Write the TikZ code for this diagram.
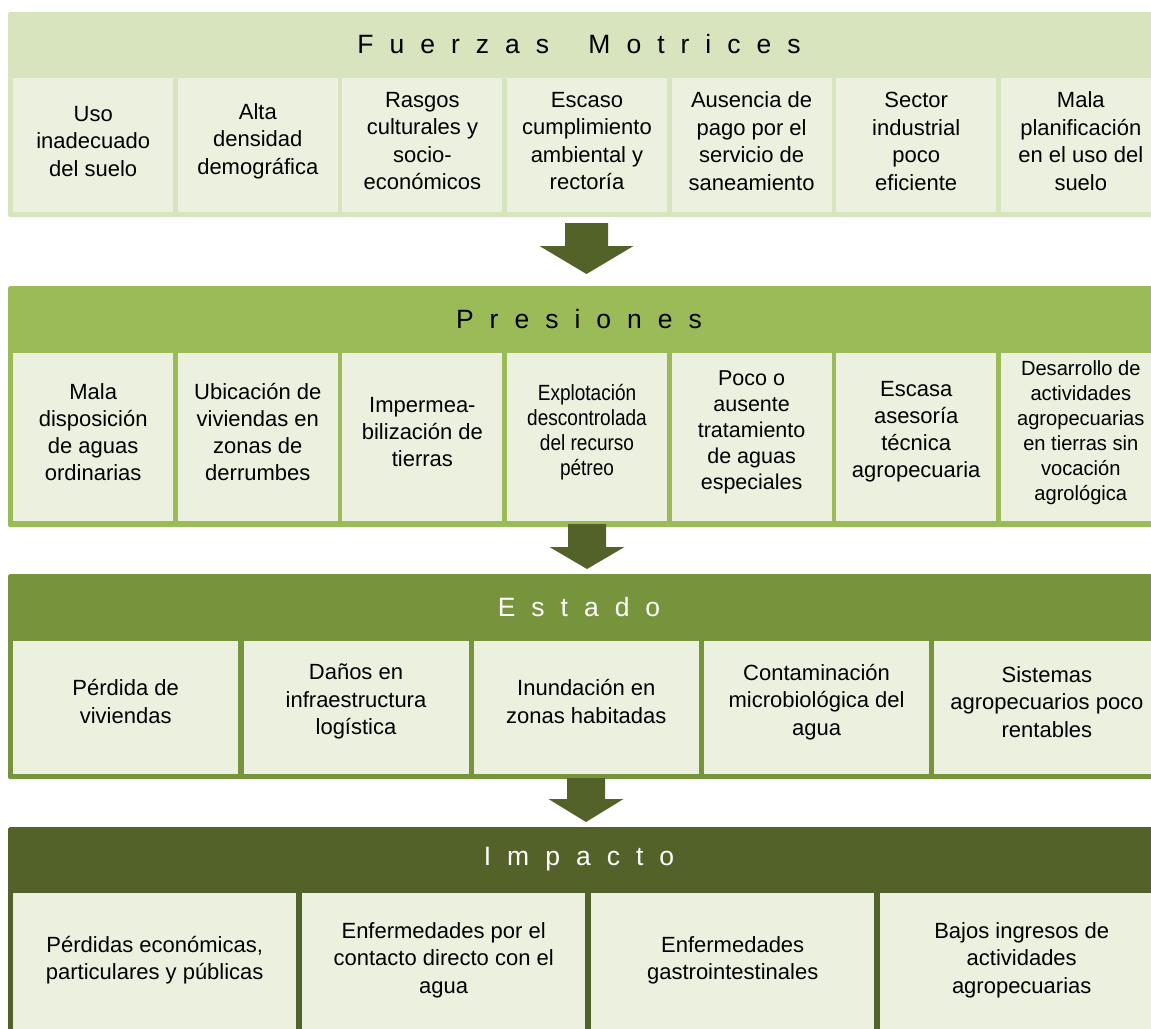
\documentclass[tikz,border=0pt]{standalone}
\usepackage{fontspec}
\setmainfont{Liberation Sans}
\usetikzlibrary{calc}
\definecolor{cA}{HTML}{D7E4BD}
\definecolor{cB}{HTML}{9BBB59}
\definecolor{cC}{HTML}{77933C}
\definecolor{cD}{HTML}{526229}
\definecolor{cBox}{HTML}{EBF1DE}
\newcommand\ls{\hspace{16pt}}
\begin{document}
\begin{tikzpicture}[x=1pt,y=-1pt,
  frame/.style={draw=none,rounded corners=1.5pt,minimum width=1158pt,anchor=north west,inner sep=0pt},
  head/.style={font=\fontsize{26.5}{30}\selectfont,inner sep=0pt},
  bx/.style={fill=cBox,draw=none,inner sep=0pt,anchor=north west},
  txt/.style={inner sep=0pt,align=center,font=\fontsize{22}{27.5}\selectfont},
  bx7/.style={bx,minimum width=160pt},
  bx5/.style={bx,minimum width=225pt,minimum height=133pt},
  bx4/.style={bx,minimum width=283pt,minimum height=136pt},
  blockarrow/.style={fill=cD,draw=none}]
\clip (0,0) rectangle (1151,1028);
\fill[white] (0,0) rectangle (1151,1028);

% ---------- Fuerzas Motrices ----------
\node[frame,fill=cA,minimum height=205pt] (F) at (8,12) {};
\node[head] (hF) at (579,44.5) {F\ls u\ls e\ls r\ls z\ls a\ls s\ls{} \ls M\ls o\ls t\ls r\ls i\ls c\ls e\ls s};
\foreach \i/\t in {1/{Uso\\inadecuado\\del suelo},
                   2/{Alta\\densidad\\demográfica},
                   3/{Rasgos\\culturales y\\socio-\\económicos},
                   4/{Escaso\\cumplimiento\\ambiental y\\rectoría},
                   5/{Ausencia de\\pago por el\\servicio de\\saneamiento},
                   6/{Sector\\industrial\\poco\\eficiente},
                   7/{Mala\\planificación\\en el uso del\\suelo}}
  {\node[bx7,minimum height=134pt] (f\i) at ({13+164.6*(\i-1)},78) {};
   \node[txt] (ft\i) at ($(f\i.center)+(0,-4)$) {\t};}

% ---------- Presiones ----------
\node[frame,fill=cB,minimum height=241pt] (P) at (8,286) {};
\node[head] (hP) at (579,319) {P\ls r\ls e\ls s\ls i\ls o\ls n\ls e\ls s};
\foreach \i/\t/\fs/\fl/\st in {1/{Mala\\disposición\\de aguas\\ordinarias}/22/27/1,
                   2/{Ubicación de\\viviendas en\\zonas de\\derrumbes}/22/27/1,
                   3/{Impermea-\\bilización de\\tierras}/22/27/1,
                   4/{Explotación\\descontrolada\\del recurso\\pétreo}/22/24.7/0.865,
                   5/{Poco o\\ausente\\tratamiento\\de aguas\\especiales}/21.5/26/1,
                   6/{Escasa\\asesoría\\técnica\\agropecuaria}/22/27/1,
                   7/{Desarrollo de\\actividades\\agropecuarias\\en tierras sin\\vocación\\agrológica}/20.5/25/0.98}
  {\node[bx7,minimum height=168pt] (p\i) at ({13+164.6*(\i-1)},353) {};
   \node[txt,font=\fontsize{\fs}{\fl}\selectfont\addfontfeature{FakeStretch=\st}] (pt\i) at ($(p\i.center)+(0,-5)$) {\t};}

% ---------- Estado ----------
\node[frame,fill=cC,minimum height=205pt] (E) at (8,574) {};
\node[head,text=white] (hE) at (579,607) {E\ls s\ls t\ls a\ls d\ls o};
\foreach \i/\t in {1/{Pérdida de\\viviendas},
                   2/{Daños en\\infraestructura\\logística},
                   3/{Inundación en\\zonas habitadas},
                   4/{Contaminación\\microbiológica del\\agua},
                   5/{Sistemas\\agropecuarios poco\\rentables}}
  {\node[bx5] (e\i) at ({13+230.3*(\i-1)},641) {};
   \node[txt] (et\i) at ($(e\i.center)+(0,-6)$) {\t};}

% ---------- Impacto ----------
\node[frame,fill=cD,minimum height=220pt] (I) at (8,827) {};
\node[head,text=white] (hI) at (579,859) {I\ls m\ls p\ls a\ls c\ls t\ls o};
\foreach \i/\t in {1/{Pérdidas económicas,\\particulares y públicas},
                   2/{Enfermedades por el\\contacto directo con el\\agua},
                   3/{Enfermedades\\gastrointestinales},
                   4/{Bajos ingresos de\\actividades\\agropecuarias}}
  {\node[bx4] (i\i) at ({13+289*(\i-1)},893) {};
   \node[txt] (it\i) at ($(i\i.center)+(0,-1)$) {\t};}

% ---------- arrows ----------
\coordinate (a1) at (586.5,223);
\coordinate (a2) at (587,524);
\coordinate (a3) at (586,778);
\fill[blockarrow] ($(a1)+(-21.5,0)$) -- ($(a1)+(21.5,0)$) -- ($(a1)+(21.5,23)$) -- ($(a1)+(47,23)$)
  -- ($(a1)+(0,51)$) -- ($(a1)+(-47,23)$) -- ($(a1)+(-21.5,23)$) -- cycle;
\fill[blockarrow] ($(a2)+(-19,0)$) -- ($(a2)+(19,0)$) -- ($(a2)+(19,23)$) -- ($(a2)+(37.5,23)$)
  -- ($(a2)+(0,45)$) -- ($(a2)+(-37.5,23)$) -- ($(a2)+(-19,23)$) -- cycle;
\fill[blockarrow] ($(a3)+(-19,0)$) -- ($(a3)+(19,0)$) -- ($(a3)+(19,21)$) -- ($(a3)+(37.5,21)$)
  -- ($(a3)+(0,44)$) -- ($(a3)+(-37.5,21)$) -- ($(a3)+(-19,21)$) -- cycle;
\end{tikzpicture}
\end{document}
